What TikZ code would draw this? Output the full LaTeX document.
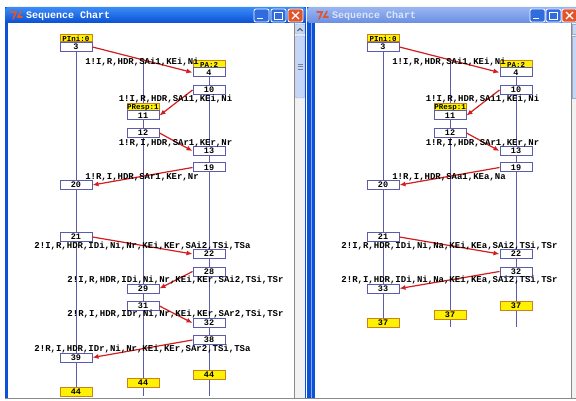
\documentclass[tikz,border=0pt]{standalone}
\usepackage{fontspec}
\newfontfamily\chartfont{Liberation Mono}
\usetikzlibrary{arrows.meta,positioning}
\pgfdeclarelayer{chrome}
\pgfdeclarelayer{lifelines}
\pgfsetlayers{chrome,lifelines,main}
\definecolor{sc-line}{HTML}{5C5CAE}
\definecolor{sc-msg}{HTML}{D21E1E}
\definecolor{sc-hd}{HTML}{FFF200}
\definecolor{sc-hdedge}{HTML}{C8821E}
\definecolor{sc-frame}{HTML}{0B52D8}
\definecolor{sc-titletop}{HTML}{3C8CF8}
\definecolor{sc-titlebot}{HTML}{0A50D4}
\definecolor{sc-inactop}{HTML}{9AB6F2}
\definecolor{sc-inacbot}{HTML}{6A8EE2}
\definecolor{sc-scroll}{HTML}{C6D6F8}
\definecolor{sc-close}{HTML}{E0552C}
\definecolor{sc-edge}{HTML}{8A8A8A}

\begin{document}
\begin{tikzpicture}[x=1pt, y=-1pt,
    evbox/.style={draw=sc-line, fill=white, line width=1pt, minimum width=32pt,
      minimum height=9pt, inner sep=0pt, font=\chartfont\bfseries\fontsize{8.5}{8.5}\selectfont},
    hdbox/.style={evbox, fill=sc-hd, draw=sc-hdedge, minimum height=7pt,
      font=\chartfont\bfseries\fontsize{7.5}{7.5}\selectfont},
    endbox/.style={evbox, fill=sc-hd, draw=sc-hdedge},
    msg/.style={-{Latex[length=6pt,width=5pt]}, sc-msg, line width=1.2pt},
    msglbl/.style={inner sep=0pt, font=\chartfont\bfseries\fontsize{9}{9}\selectfont},
    lifeline/.style={sc-line, line width=1pt},
    wintitle/.style={anchor=west, inner sep=0pt, font=\chartfont\bfseries\fontsize{10}{10}\selectfont},
    winbtn/.style={draw=white, line width=0.8pt, rounded corners=2pt, fill=sc-frame!85!white},
    btnmark/.style={white, line width=1.4pt}]
  \useasboundingbox (0,0) rectangle (576,401);

  % window chrome
  \begin{pgfonlayer}{chrome}
    \fill[white] (0,0) rectangle (576,401);
    % left window
    \fill[sc-frame] (5,7) rectangle (306,398);
    \fill[white] (8,23) rectangle (294,398);
    \shade[top color=sc-titletop, bottom color=sc-titlebot, rounded corners=3pt]
      (5,23) -- (5,7) -- (306,7) -- (306,23) -- cycle;
    \fill[white!95!black] (295,23) rectangle (305,398);
    \draw[sc-edge] (294.5,23) -- (294.5,398);
    \draw[sc-scroll!80!black, fill=sc-scroll, rounded corners=1pt] (295.5,24) rectangle (304.5,34);
    \draw[black!70, line width=1pt] (297.5,31) -- (300,28.5) -- (302.5,31);
    \draw[sc-scroll!80!black, fill=sc-scroll, rounded corners=1pt] (295.5,36) rectangle (304.5,98);
    \foreach \gy in {64,66.5,69}
      \draw[sc-scroll!60!black, line width=0.5pt] (297.5,\gy) -- (302.5,\gy);
    % right window
    \fill[sc-frame] (307,7) rectangle (576,398);
    \draw[sc-frame!50!white, line width=1pt] (311,23) -- (311,398);
    \fill[white] (315,23) rectangle (571,398);
    \shade[top color=sc-inactop, bottom color=sc-inacbot, rounded corners=3pt]
      (307,23) -- (307,7) -- (580,7) -- (580,23) -- cycle;
    \fill[white!95!black] (572,23) rectangle (576,398);
    \draw[sc-edge] (571.5,23) -- (571.5,398);
    \draw[sc-scroll!80!black, fill=sc-scroll] (572.5,24) rectangle (577,34);
    \draw[sc-scroll!80!black, fill=sc-scroll] (572.5,36) rectangle (577,98);
    \draw[sc-edge] (5,398.5) -- (576,398.5);
  \end{pgfonlayer}

  % title bars
  \draw[sc-close, line width=1.6pt, line cap=round] (11,12) -- (16,12) -- (13,19);
  \draw[sc-close, line width=1.6pt, line cap=round] (21,11.5) -- (18,17) -- (22,17);
  \node[wintitle, white] (lTitle) at (26,15.5) {Sequence Chart};
  \draw[sc-close, line width=1.6pt, line cap=round] (317,12) -- (322,12) -- (319,19);
  \draw[sc-close, line width=1.6pt, line cap=round] (327,11.5) -- (324,17) -- (328,17);
  \node[wintitle, white!85!sc-frame] (rTitle) at (332,15.5) {Sequence Chart};
  \foreach \bx/\cl in {254/0, 271/0, 288/1, 530/0, 546/0, 562/1} {
    \ifnum\cl=1
      \draw[winbtn, fill=sc-close] (\bx,9) rectangle ++(15,13);
      \draw[btnmark] (\bx+4,12) -- ++(7,7) (\bx+11,12) -- ++(-7,7);
    \else
      \draw[winbtn] (\bx,9) rectangle ++(15,13);
    \fi
  }
  \draw[btnmark] (257,18.5) -- (263,18.5);
  \draw[btnmark] (533,18.5) -- (539,18.5);
  \draw[white, line width=0.9pt] (274.5,12.5) rectangle (282.5,19);
  \draw[white, line width=0.9pt] (549.5,12.5) rectangle (557.5,19);

  % left chart
  \node[hdbox] (lIni) at (76,38.5) {PIni:0};
  \node[evbox] (lb3) at (76,47) {3};
  \node[hdbox] (lPA) at (209,64.5) {PA:2};
  \node[evbox] (lb4) at (209,72.5) {4};
  \node[evbox] (lb10) at (209,90) {10};
  \node[hdbox] (lResp) at (143,107.5) {PResp:1};
  \node[evbox] (lb11) at (143,115.5) {11};
  \node[evbox] (lb12) at (143,133) {12};
  \node[evbox] (lb13) at (209,151) {13};
  \node[evbox] (lb19) at (209,167.5) {19};
  \node[evbox] (lb20) at (76,185) {20};
  \node[evbox] (lb21) at (76,237) {21};
  \node[evbox] (lb22) at (209,254) {22};
  \node[evbox] (lb28) at (209,271.5) {28};
  \node[evbox] (lb29) at (143,288.5) {29};
  \node[evbox] (lb31) at (143,306) {31};
  \node[evbox] (lb32) at (209,323) {32};
  \node[evbox] (lb38) at (209,340) {38};
  \node[evbox] (lb39) at (76,357.5) {39};
  \node[endbox] (le1) at (76,391.5) {44};
  \node[endbox] (le2) at (143,383) {44};
  \node[endbox] (le3) at (209,375) {44};
  \coordinate (lTop2) at (143,60);
  \coordinate (lBot2) at (143,396);
  \coordinate (lBot3) at (209,396);
  \begin{pgfonlayer}{lifelines}
    \draw[lifeline] (lb3.south) -- (le1.north);
    \draw[lifeline] (lTop2) -- (lBot2);
    \draw[lifeline] (lb4.south) -- (lBot3);
  \end{pgfonlayer}
  \draw[msg] (lb3.east) -- (lb4.west);
  \draw[msg] (lb10.west) -- (lb11.east);
  \draw[msg] (lb12.east) -- (lb13.west);
  \draw[msg] (lb19.west) -- (lb20.east);
  \draw[msg] (lb21.east) -- (lb22.west);
  \draw[msg] (lb28.west) -- (lb29.east);
  \draw[msg] (lb31.east) -- (lb32.west);
  \draw[msg] (lb38.west) -- (lb39.east);
  \node[msglbl] (lm1) at (142,62) {1!I,R,HDR,SAi1,KEi,Ni};
  \node[msglbl] (lm2) at (175.5,99.5) {1!I,R,HDR,SAi1,KEi,Ni};
  \node[msglbl] (lm3) at (175.5,143) {1!R,I,HDR,SAr1,KEr,Nr};
  \node[msglbl] (lm4) at (142,177) {1!R,I,HDR,SAr1,KEr,Nr};
  \node[msglbl] (lm5) at (142.5,246) {2!I,R,HDR,IDi,Ni,Nr,KEi,KEr,SAi2,TSi,TSa};
  \node[msglbl] (lm6) at (175.5,280) {2!I,R,HDR,IDi,Ni,Nr,KEi,KEr,SAi2,TSi,TSr};
  \node[msglbl] (lm7) at (175.5,314) {2!R,I,HDR,IDr,Ni,Nr,KEi,KEr,SAr2,TSi,TSr};
  \node[msglbl] (lm8) at (142.5,349) {2!R,I,HDR,IDr,Ni,Nr,KEi,KEr,SAr2,TSi,TSa};

  % right chart
  \begin{scope}[xshift=307pt]
    \node[hdbox] (rIni) at (76,38.5) {PIni:0};
    \node[evbox] (rb3) at (76,47) {3};
    \node[hdbox] (rPA) at (209,64.5) {PA:2};
    \node[evbox] (rb4) at (209,72.5) {4};
    \node[evbox] (rb10) at (209,90) {10};
    \node[hdbox] (rResp) at (143,107.5) {PResp:1};
    \node[evbox] (rb11) at (143,115.5) {11};
    \node[evbox] (rb12) at (143,133) {12};
    \node[evbox] (rb13) at (209,151) {13};
    \node[evbox] (rb19) at (209,167.5) {19};
    \node[evbox] (rb20) at (76,185) {20};
    \node[evbox] (rb21) at (76,237) {21};
    \node[evbox] (rb22) at (209,254) {22};
    \node[evbox] (rb32) at (209,271.5) {32};
    \node[evbox] (rb33) at (76,288.5) {33};
    \node[endbox] (re1) at (76,323) {37};
    \node[endbox] (re2) at (143,314.5) {37};
    \node[endbox] (re3) at (209,306) {37};
    \coordinate (rTop2) at (143,60);
    \coordinate (rBot2) at (143,327);
    \coordinate (rBot3) at (209,327);
    \begin{pgfonlayer}{lifelines}
      \draw[lifeline] (rb3.south) -- (re1.north);
      \draw[lifeline] (rTop2) -- (rBot2);
      \draw[lifeline] (rb4.south) -- (rBot3);
    \end{pgfonlayer}
    \draw[msg] (rb3.east) -- (rb4.west);
    \draw[msg] (rb10.west) -- (rb11.east);
    \draw[msg] (rb12.east) -- (rb13.west);
    \draw[msg] (rb19.west) -- (rb20.east);
    \draw[msg] (rb21.east) -- (rb22.west);
    \draw[msg] (rb32.west) -- (rb33.east);
    \node[msglbl] (rm1) at (142,62) {1!I,R,HDR,SAi1,KEi,Ni};
    \node[msglbl] (rm2) at (175.5,99.5) {1!I,R,HDR,SAi1,KEi,Ni};
    \node[msglbl] (rm3) at (175.5,143) {1!R,I,HDR,SAr1,KEr,Nr};
    \node[msglbl] (rm4) at (142,177) {1!R,I,HDR,SAa1,KEa,Na};
    \node[msglbl] (rm5) at (142.5,246) {2!I,R,HDR,IDi,Ni,Na,KEi,KEa,SAi2,TSi,TSr};
    \node[msglbl] (rm6) at (142.5,280) {2!R,I,HDR,IDi,Ni,Na,KEi,KEa,SAi2,TSi,TSr};
  \end{scope}
\end{tikzpicture}
\end{document}
